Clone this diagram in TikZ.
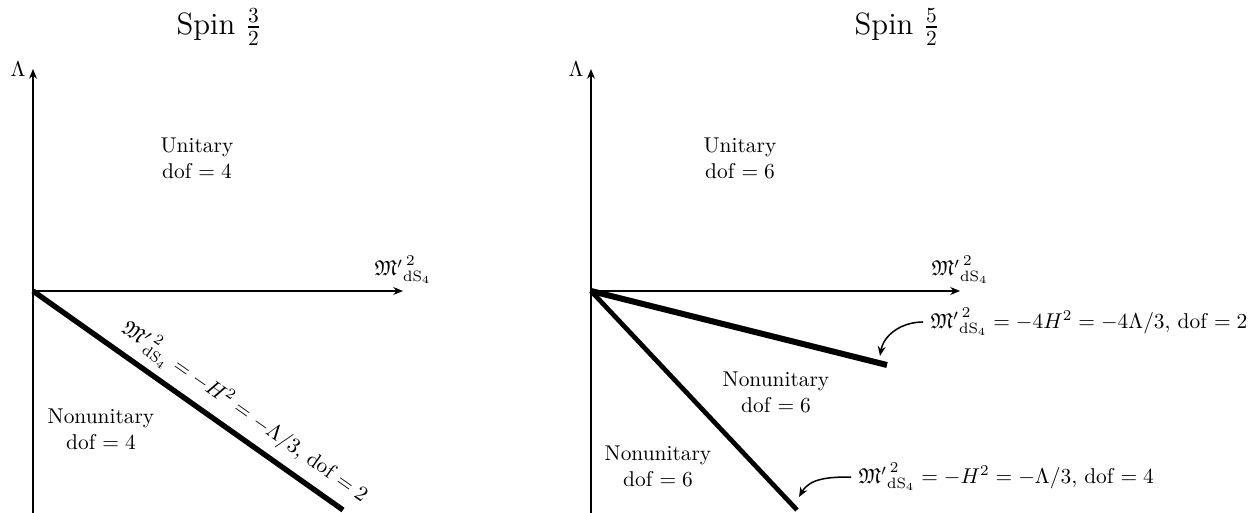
\documentclass[tikz,border=0pt]{standalone}
\usepackage{amssymb}
\usetikzlibrary{arrows.meta, positioning}
\newcommand{\massdS}{{\mathfrak{M}'}^{\,2}_{\mathrm{dS}_4}}

\begin{document}
\begin{tikzpicture}[
    x=0.467pt, y=-0.467pt,
    axis/.style={-{Stealth[length=1.6mm, width=1.3mm]}, line width=0.6pt},
    bound/.style={line width=#1},
    bound/.default=2.5pt,
    region/.style={align=center},
    pointer/.style={-{Stealth[length=1.6mm, width=1.3mm]}, line width=0.7pt},
    note/.style={anchor=west},
    title/.style={font=\Large}
]
\useasboundingbox (0,0) rectangle (1250,513);

% Left panel: spin 3/2
\coordinate (oL) at (33,291);
\coordinate (yL) at (33,69);
\coordinate (bL) at (33,513);
\coordinate (xL) at (403,291);
\coordinate (eL) at (343,510);
\draw[axis] (bL) -- (yL);
\draw[axis] (oL) -- (xL);
\node[left] (lamL) at (yL) {$\Lambda$};
\node[above] (mL) at (xL) {$\massdS$};
\node[title] (tL) at (219,27) {Spin $\frac{3}{2}$};
\node[region] (uL) at (197,158) {Unitary\\dof $=4$};
\node[region] (nL) at (101,429) {Nonunitary\\dof $=4$};
\draw[bound] (oL) -- node[pos=0.64, above, sloped] (cL) {$\massdS=-H^2=-\Lambda/3$, dof $=2$} (eL);

% Right panel: spin 5/2
\coordinate (oR) at (591,291);
\coordinate (yR) at (591,69);
\coordinate (bR) at (591,513);
\coordinate (xR) at (960,291);
\coordinate (eRa) at (887,365);
\coordinate (eRb) at (797,510);
\draw[axis] (bR) -- (yR);
\draw[axis] (oR) -- (xR);
\node[left] (lamR) at (yR) {$\Lambda$};
\node[above] (mR) at (xR) {$\massdS$};
\node[title] (tR) at (897,27) {Spin $\frac{5}{2}$};
\node[region] (uR) at (740,158) {Unitary\\dof $=6$};
\node[region] (nRa) at (776,392) {Nonunitary\\dof $=6$};
\node[region] (nRb) at (658,466) {Nonunitary\\dof $=6$};
\draw[bound=2.8pt] (oR) -- (eRa);
\draw[bound=2.2pt] (oR) -- (eRb);

% Curved pointers
\node[note] (cRa) at (923,322) {$\massdS=-4H^2=-4\Lambda/3$, dof $=2$};
\node[note] (cRb) at (851,477) {$\massdS=-H^2=-\Lambda/3$, dof $=4$};
\coordinate (pRa) at (880,356);
\coordinate (pRb) at (799,497);
\draw[pointer] (cRa.west) to[out=180, in=80] (pRa);
\draw[pointer] (cRb.west) to[out=180, in=60] (pRb);
\end{tikzpicture}
\end{document}
